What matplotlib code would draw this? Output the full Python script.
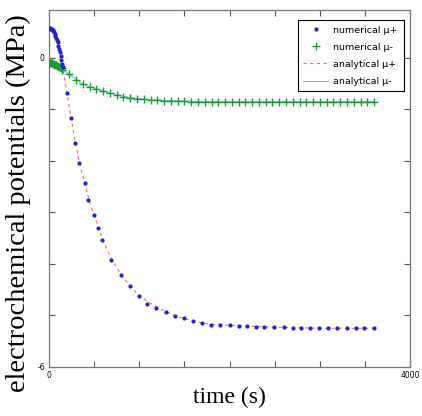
import numpy as np
import matplotlib
matplotlib.use("Agg")
import matplotlib.pyplot as plt

# numerical mu+ (blue dots)
t_pos = [0, 8, 16, 24, 32, 40, 48, 56, 64, 72, 80, 88, 96, 104, 112, 120, 128, 136, 144, 152,
         200, 245, 290, 335, 400, 435, 500, 545, 590, 690, 800, 900, 1000, 1090, 1190, 1300,
         1400, 1500, 1600, 1690, 1790, 1890, 2000, 2100, 2190, 2290, 2380, 2490, 2600, 2700,
         2790, 2890, 2990, 3090, 3190, 3300, 3400, 3490, 3600]
mu_pos = [0.58, 0.58, 0.57, 0.57, 0.56, 0.55, 0.53, 0.50, 0.47, 0.43, 0.39, 0.35, 0.30, 0.24,
          0.18, 0.11, 0.04, -0.04, -0.11, -0.17,
          -0.68, -1.17, -1.65, -2.04, -2.43, -2.76, -3.05, -3.30, -3.53, -3.92, -4.21, -4.43,
          -4.62, -4.78, -4.85, -4.93, -5.01, -5.05, -5.11, -5.15, -5.18, -5.19, -5.19, -5.21,
          -5.21, -5.23, -5.23, -5.23, -5.23, -5.25, -5.25, -5.25, -5.25, -5.25, -5.25, -5.25,
          -5.25, -5.25, -5.25]

# analytical mu+ (red dashed)
t_pos_an = [0, 40, 80, 120, 160, 200, 250, 300, 350, 400, 450, 500, 600, 700, 800, 900, 1000,
            1200, 1400, 1600, 1800, 2000, 2500, 3000, 3600]
mu_pos_an = [0.57, 0.55, 0.39, 0.11, -0.25, -0.68, -1.22, -1.72, -2.12, -2.45, -2.80, -3.05,
             -3.55, -3.93, -4.21, -4.43, -4.62, -4.85, -5.01, -5.11, -5.18, -5.19, -5.23,
             -5.25, -5.25]

# numerical mu- (green plus)
t_neg = [0, 10, 20, 30, 40, 50, 60, 70, 80, 90, 100, 110, 120, 130, 140,
         150, 225, 300, 375, 450, 525, 600, 675, 750, 825, 900, 975, 1050, 1125, 1200, 1275,
         1350, 1425, 1500, 1575, 1650, 1725, 1800, 1875, 1950, 2025, 2100, 2175, 2250, 2325,
         2400, 2475, 2550, 2625, 2700, 2775, 2850, 2925, 3000, 3075, 3150, 3225, 3300, 3375,
         3450, 3525, 3600]
mu_neg = [-0.08, -0.09, -0.09, -0.10, -0.11, -0.12, -0.12, -0.13, -0.14, -0.15, -0.16, -0.17,
          -0.18, -0.19, -0.20,
          -0.23, -0.32, -0.42, -0.50, -0.56, -0.60, -0.64, -0.68, -0.72, -0.75, -0.77, -0.79,
          -0.80, -0.81, -0.82, -0.83, -0.83, -0.84, -0.84, -0.85, -0.85, -0.85, -0.85, -0.85,
          -0.85, -0.85, -0.85, -0.85, -0.85, -0.85, -0.85, -0.85, -0.85, -0.85, -0.85, -0.85,
          -0.85, -0.85, -0.85, -0.85, -0.85, -0.85, -0.85, -0.85, -0.85, -0.85, -0.85]

# analytical mu- (cyan line)
t_neg_an = [0, 50, 100, 150, 225, 300, 375, 450, 525, 600, 750, 900, 1050, 1200, 1350, 1500,
            1800, 2400, 3000, 3600]
mu_neg_an = [-0.08, -0.12, -0.16, -0.23, -0.32, -0.42, -0.50, -0.56, -0.60, -0.64, -0.72,
             -0.77, -0.80, -0.82, -0.83, -0.84, -0.85, -0.85, -0.85, -0.85]

fig = plt.figure(figsize=(4.22, 4.16), dpi=100)
ax = fig.add_axes([0.116, 0.118, 0.856, 0.858])

ax.plot(t_neg_an, mu_neg_an, '-', color='#5fd3c8', lw=0.8, label='analytical \u03bc-', zorder=2)
ax.plot(t_neg, mu_neg, '+', color='#1a9a3a', ms=6, mew=1.0, label='numerical \u03bc-', zorder=3)
ax.plot(t_pos_an, mu_pos_an, '--', color='#e8707a', lw=0.8, dashes=(3, 3),
        label='analytical \u03bc+', zorder=2)
ax.plot(t_pos, mu_pos, '.', color='#2020d0', ms=4, label='numerical \u03bc+', zorder=4)

ax.set_xlim(0, 4000)
ax.set_ylim(-6, 0.93)
ax.set_xticks(np.arange(0, 4001, 500))
ax.set_xticklabels(['0'] + [''] * 7 + ['4000'])
ax.set_yticks(np.arange(-6, 1, 1))
ax.set_yticklabels(['-6'] + [''] * 5 + ['0'])
ax.tick_params(direction='in', length=4, width=0.8, color='#555555', labelsize=5.5,
               top=True, right=True, pad=3)
for s in ax.spines.values():
    s.set_color('#777777')
    s.set_linewidth(0.9)

ax.set_xlabel('time (s)', family='Liberation Serif', fontsize=17, labelpad=5)
ax.set_ylabel('electrochemical potentials (MPa)', family='Liberation Serif', fontsize=20.5)
ax.yaxis.set_label_coords(-0.05, 0.46)

h, l = ax.get_legend_handles_labels()
order = [3, 1, 2, 0]
leg = ax.legend([h[i] for i in order], [l[i] for i in order], loc='upper right',
                fontsize=6.8, frameon=True, fancybox=False, framealpha=1,
                edgecolor='black', borderpad=0.6, labelspacing=0.85, handlelength=2.6,
                handletextpad=0.6, bbox_to_anchor=(0.995, 0.985))
leg.get_frame().set_linewidth(0.8)

fig.savefig('out.png', dpi=100)
